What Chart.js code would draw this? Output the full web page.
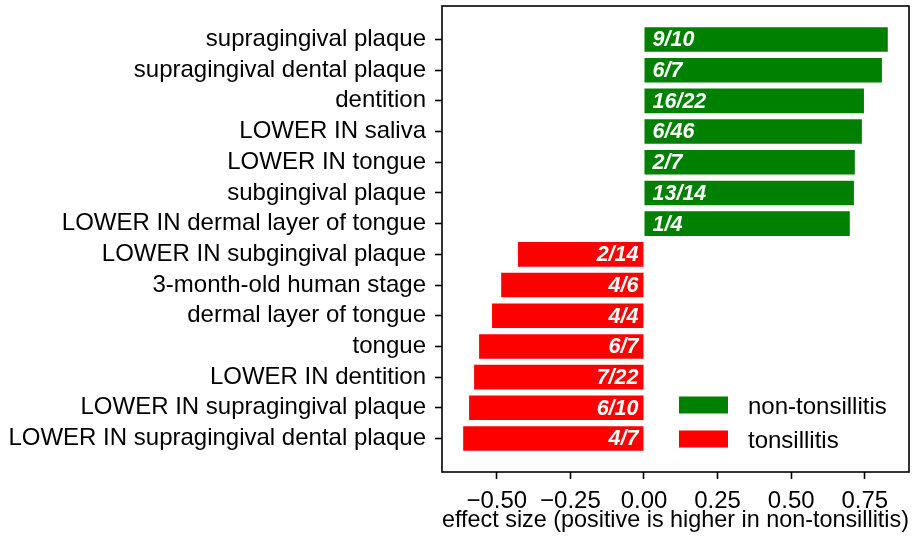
<!DOCTYPE html>
<html>
<head>
<meta charset="utf-8">
<script src="https://cdn.jsdelivr.net/npm/chart.js@4/dist/chart.umd.min.js"></script>
<style>
  html, body { margin: 0; padding: 0; background: #fff; }
  #wrap { width: 921px; height: 544px; }
</style>
</head>
<body>
<div id="wrap"><canvas id="effectChart"></canvas></div>
<script>
// danh mục (từ trên xuống dưới)
const categories = [
  'supragingival plaque',
  'supragingival dental plaque',
  'dentition',
  'LOWER IN saliva',
  'LOWER IN tongue',
  'subgingival plaque',
  'LOWER IN dermal layer of tongue',
  'LOWER IN subgingival plaque',
  '3-month-old human stage',
  'dermal layer of tongue',
  'tongue',
  'LOWER IN dentition',
  'LOWER IN supragingival plaque',
  'LOWER IN supragingival dental plaque'
];

// effect size - nhóm non-tonsillitis (7 hàng đầu)
const nonTonsValues = [0.828, 0.808, 0.747, 0.740, 0.716, 0.713, 0.699];
const nonTonsCounts = ['9/10', '6/7', '16/22', '6/46', '2/7', '13/14', '1/4'];

// effect size - nhóm tonsillitis (7 hàng cuối)
const tonsValues = [-0.428, -0.485, -0.516, -0.560, -0.577, -0.594, -0.614];
const tonsCounts = ['2/14', '4/6', '4/4', '6/7', '7/22', '6/10', '4/7'];

const xTicks = [-0.5, -0.25, 0, 0.25, 0.5, 0.75];

const FONT = "'Liberation Sans', Arial, sans-serif";
const FONT_SIZE = 24;
const BAR_FONT_SIZE = 21.5;

// dữ liệu dạng {x, y} vì trục y là linear (chỉ số hàng)
const nonTonsData = nonTonsValues.map((v, i) => ({ x: v, y: i }));
const tonsData = tonsValues.map((v, i) => ({ x: v, y: i + nonTonsValues.length }));

// Khung 4 cạnh quanh vùng vẽ (giống spines của matplotlib)
const frameBox = {
  id: 'frameBox',
  afterDraw(chart) {
    const { ctx, chartArea: a } = chart;
    ctx.save();
    ctx.strokeStyle = '#000';
    ctx.lineWidth = 1.6;
    ctx.strokeRect(a.left, a.top, a.right - a.left, a.bottom - a.top);
    ctx.restore();
  }
};

// Nhãn số đếm trên mỗi thanh
const barCounts = {
  id: 'barCounts',
  afterDatasetsDraw(chart) {
    const { ctx } = chart;
    ctx.save();
    ctx.fillStyle = '#fff';
    ctx.font = 'italic bold ' + BAR_FONT_SIZE + 'px ' + FONT;
    ctx.textBaseline = 'middle';
    chart.data.datasets.forEach((ds, di) => {
      const meta = chart.getDatasetMeta(di);
      meta.data.forEach((bar, i) => {
        const txt = ds.counts[i];
        if (bar.x >= bar.base) {
          ctx.textAlign = 'left';
          ctx.fillText(txt, bar.base + 8, bar.y + 1);
        } else {
          ctx.textAlign = 'right';
          ctx.fillText(txt, bar.base - 5, bar.y + 1);
        }
      });
    });
    ctx.restore();
  }
};

// Chú thích nằm trong góc dưới bên phải
const insideLegend = {
  id: 'insideLegend',
  afterDraw(chart) {
    const { ctx, chartArea: a } = chart;
    ctx.save();
    ctx.font = FONT_SIZE + 'px ' + FONT;
    ctx.textBaseline = 'middle';
    ctx.textAlign = 'left';
    const x0 = a.left + 237;
    let y0 = a.top + 399;
    chart.data.datasets.forEach(ds => {
      ctx.fillStyle = ds.backgroundColor;
      ctx.fillRect(x0, y0 - 8.5, 49, 17);
      ctx.fillStyle = '#000';
      ctx.fillText(ds.label, x0 + 69, y0 + 2);
      y0 += 34;
    });
    ctx.restore();
  }
};

new Chart(document.getElementById('effectChart'), {
  type: 'bar',
  data: {
    datasets: [
      {
        label: 'non-tonsillitis',
        data: nonTonsData,
        counts: nonTonsCounts,
        backgroundColor: '#008000'
      },
      {
        label: 'tonsillitis',
        data: tonsData,
        counts: tonsCounts,
        backgroundColor: '#ff0000'
      }
    ]
  },
  options: {
    indexAxis: 'y',
    responsive: true,
    maintainAspectRatio: false,
    animation: false,
    grouped: false,
    barPercentage: 1,
    categoryPercentage: 0.8,
    layout: { padding: { top: 6, right: 12, left: 0, bottom: 9 } },
    scales: {
      x: {
        type: 'linear',
        min: -0.686,
        max: 0.900,
        afterFit: s => { s.height = 63; s.paddingLeft = 0; s.paddingRight = 0; },
        afterBuildTicks: s => { s.ticks = xTicks.map(v => ({ value: v })); },
        grid: { drawOnChartArea: false, drawTicks: true, tickLength: 7, tickWidth: 1.6, tickColor: '#000' },
        border: { display: false },
        ticks: {
          color: '#000',
          padding: 8,
          font: { family: FONT, size: FONT_SIZE },
          maxRotation: 0,
          callback: v => v.toFixed(2).replace('-', '\u2212')
        },
        title: {
          display: true,
          text: 'effect size (positive is higher in non-tonsillitis)',
          color: '#000',
          font: { family: FONT, size: FONT_SIZE },
          padding: { top: 0, bottom: 0 }
        }
      },
      y: {
        type: 'linear',
        reverse: true,
        offset: false,
        min: -1.09,
        max: 14.09,
        afterFit: s => { s.width = 442; s.paddingTop = 0; s.paddingBottom = 0; },
        afterBuildTicks: s => { s.ticks = categories.map((c, i) => ({ value: i })); },
        grid: { offset: false, drawOnChartArea: false, drawTicks: true, tickLength: 7, tickWidth: 1.6, tickColor: '#000' },
        border: { display: false },
        ticks: {
          color: '#000',
          padding: 9,
          font: { family: FONT, size: FONT_SIZE },
          autoSkip: false,
          callback: v => categories[v]
        }
      }
    },
    plugins: {
      legend: { display: false },
      tooltip: { enabled: false }
    }
  },
  plugins: [frameBox, barCounts, insideLegend]
});
</script>
</body>
</html>
